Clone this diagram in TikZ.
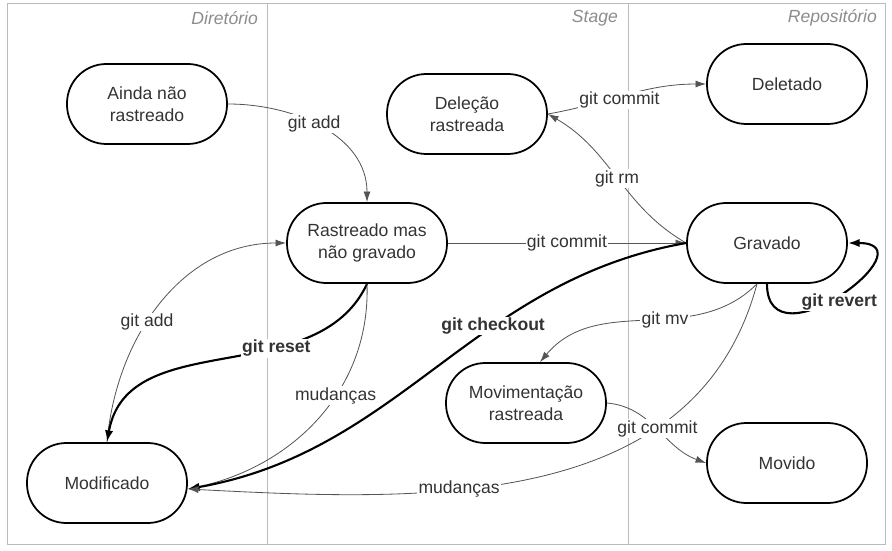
\documentclass[tikz,border=0pt]{standalone}
\usepackage{fontspec}
\setmainfont{Liberation Sans}
\usetikzlibrary{arrows.meta}
\definecolor{ink}{HTML}{333333}
\definecolor{wire}{HTML}{555555}
\definecolor{lanegray}{HTML}{BBBBBB}

\begin{document}
\begin{tikzpicture}[x=0.03cm,y=0.03cm,
		every node/.style={font=\fontsize{15}{19}\selectfont},
		state/.style={draw,line width=1.5pt,rounded corners=1.18cm,minimum width=4.8cm,minimum height=2.4cm,align=center,text=ink},
		flow/.style={draw=wire,line width=0.7pt,-{Latex[length=9pt,width=6pt]}},
		heavy/.style={draw=black,line width=1.8pt,-{Latex[length=10pt,width=7pt]}},
		lbl/.style={fill=white,inner sep=1pt,text=ink},
		panel/.style={draw=lanegray,line width=0.8pt},
		lanetitle/.style={font=\fontsize{15}{19}\selectfont\itshape,text=black!45,anchor=east}]
			\useasboundingbox (0,0) rectangle (892,550);
			\draw[panel] (7,6) rectangle (885,547);
			\foreach \x in {267,628} {\draw[panel] (\x,6) -- (\x,547);};
			\foreach \x/\t/\n in {262/Diretório/dir,622/Stage/stg,881/Repositório/rep} {\node[lanetitle] (\n) at (\x,532) {\t};};

			\node[state] (ainda) at (147,446) {Ainda não\\rastreado};
			\node[state] (rastreado) at (367,307) {Rastreado mas\\não gravado};
			\node[state] (delecao) at (467,436) {Deleção\\rastreada};
			\node[state] (deletado) at (787,466) {Deletado};
			\node[state] (gravado) at (767,307) {Gravado};
			\node[state] (modificado) at (107,67) {Modificado};
			\node[state] (movimentacao) at (526,147) {Movimentação\\rastreada};
			\node[state] (movido) at (787,87) {Movido};

			\draw[flow] (ainda.east) to[out=0,in=90] node[lbl,pos=.45] (addA) {git add} (rastreado.north);
			\draw[flow] (rastreado) -- node[lbl] (commitR) {git commit} (gravado);
			\draw[flow] (gravado.west) to[out=150,in=-30] node[lbl,pos=.5] (rmG) {git rm} (delecao.east);
			\draw[flow] (delecao.east) to[out=10,in=180] node[lbl,pos=.45,yshift=-1mm] (commitD) {git commit} (deletado.west);
			\draw[flow] (modificado.north) to[out=85,in=180] node[lbl,pos=.42] (addM) {git add} (rastreado.west);
			\draw[heavy] (rastreado.south) to[out=-115,in=80] node[lbl,pos=.35] (resetR) {\bfseries git reset} (modificado.north);
			\draw[flow] (rastreado.south) to[out=-88,in=12] node[lbl,pos=.4] (mudR) {mudanças} ([yshift=-1.8mm]modificado.east);
			\draw[heavy] (gravado.west) to[out=190,in=10] node[lbl,pos=.37] (checkoutG) {\bfseries git checkout} ([yshift=-1.8mm]modificado.east);
			\draw[flow] ([xshift=-3mm]gravado.south) to[out=-105,in=-3] node[lbl,pos=.62] (mudG) {mudanças} ([yshift=-1.8mm]modificado.east);
			\draw[flow] ([xshift=-3mm]gravado.south) to[out=225,in=50] node[lbl,pos=.42] (mvG) {git mv} ([xshift=4.2mm]movimentacao.north);
			\draw[flow] (movimentacao.east) to[out=-5,in=160] node[lbl,pos=.5] (commitM) {git commit} (movido.west);
			\draw[heavy] (gravado.south) to[out=-90,in=0,looseness=2.4] node[lbl,pos=.5,yshift=-2mm] (revertG) {\bfseries git revert} (gravado.east);
		\end{tikzpicture}
\end{document}
